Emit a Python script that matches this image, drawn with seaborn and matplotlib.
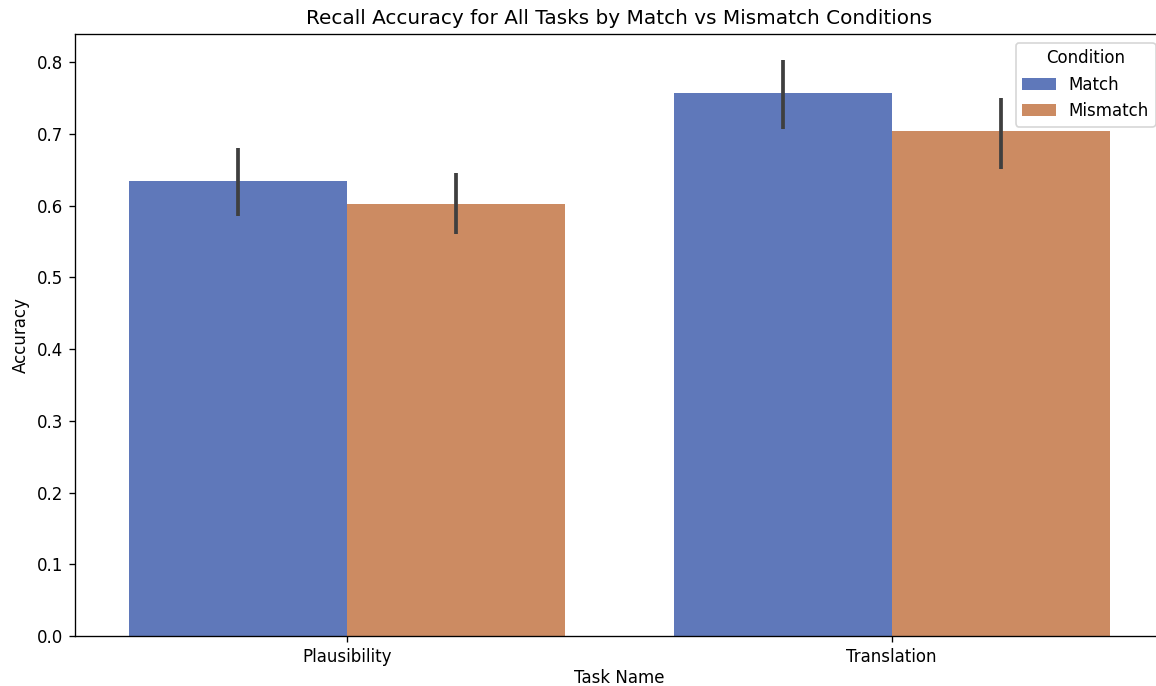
import matplotlib
matplotlib.use("Agg")
import matplotlib.pyplot as plt
import seaborn as sns
import pandas as pd

# mean recall accuracy per task and condition, with 95% CI bounds
tasks = ["Plausibility", "Plausibility", "Translation", "Translation"]
conditions = ["Match", "Mismatch", "Match", "Mismatch"]
accuracy = [0.634, 0.602, 0.757, 0.704]
ci_low = [0.585, 0.561, 0.707, 0.651]
ci_high = [0.681, 0.645, 0.803, 0.750]
colors = ["#5f78ba", "#cc8b62"]

df = pd.DataFrame({"Task Name": tasks, "Condition": conditions, "Accuracy": accuracy,
                   "lo": ci_low, "hi": ci_high})

fig = plt.figure(figsize=(1156 / 120, 686 / 120), dpi=120)
# the reference is cropped: the axes run a little past the right edge
ax = fig.add_axes([0.0645, 0.073, 0.9425, 0.877])

sns.barplot(data=df, x="Task Name", y="Accuracy", hue="Condition",
            palette=colors, saturation=1, errorbar=None, ax=ax)

# error bars, one per bar, placed at each bar's centre
bars = [p for p in ax.patches if p.get_height() > 0]
bars = sorted(bars, key=lambda p: p.get_x())
for bar, lo, hi in zip(bars, df["lo"], df["hi"]):
    xc = bar.get_x() + bar.get_width() / 2
    ax.vlines(xc, lo, hi, color="#3f3f3f", linewidth=2.25, zorder=3)

ax.set_ylim(0, 0.839)
ax.set_xlim(-0.5, 1.5)
ax.spines["right"].set_visible(False)
ax.set_title("Recall Accuracy for All Tasks by Match vs Mismatch Conditions")
ax.set_xlabel("Task Name", labelpad=2)
ax.legend(title="Condition", loc="upper right")

fig.savefig("out.png", dpi=120)
